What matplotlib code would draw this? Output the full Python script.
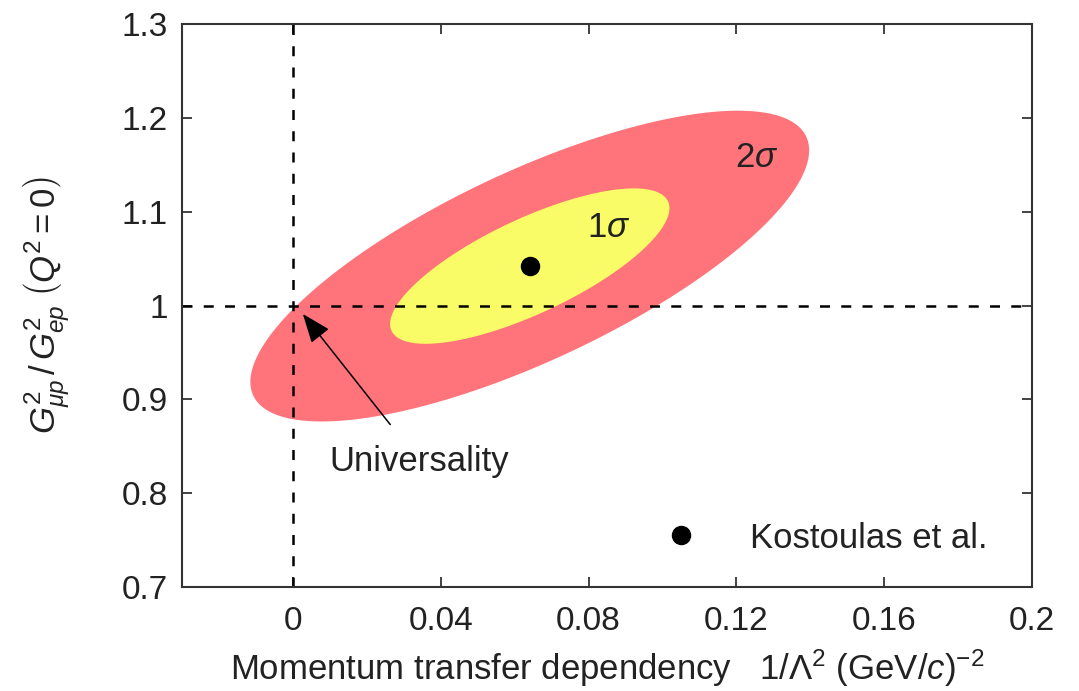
import numpy as np
import matplotlib
matplotlib.use("Agg")
import matplotlib.pyplot as plt

plt.rcParams['font.family'] = ['Liberation Sans', 'DejaVu Sans']
plt.rcParams['mathtext.fontset'] = 'custom'
plt.rcParams['mathtext.rm'] = 'Liberation Sans'
plt.rcParams['mathtext.it'] = 'Liberation Sans:italic'
plt.rcParams['mathtext.bf'] = 'Liberation Sans:bold'

# Data
center_x = 0.0641          # 1/Lambda^2 best fit
center_y = 1.042           # G^2_mup / G^2_ep best fit
sigma_x = 0.0378
sigma_y = 0.0828
rho = 0.745
contour_levels = [2, 1]
contour_labels = ['2$\\sigma$', '1$\\sigma$']
contour_colors = ['#FF737B', '#F9FC66']
label_pos_x = [0.1256, 0.0855]
label_pos_y = [1.158, 1.083]
legend_label = 'Kostoulas et al.'
xticks = [0, 0.04, 0.08, 0.12, 0.16, 0.2]
xtick_labels = ['0', '0.04', '0.08', '0.12', '0.16', '0.2']
yticks = [0.7, 0.8, 0.9, 1.0, 1.1, 1.2, 1.3]
ytick_labels = ['0.7', '0.8', '0.9', '1', '1.1', '1.2', '1.3']

FS = 25
TXT = '#222222'

fig = plt.figure(figsize=(10.79, 6.91), dpi=100)
ax = fig.add_axes([182/1079, 1-587/691, (1032-182)/1079, (587-24)/691])

t = np.linspace(0, 2*np.pi, 400)
for k, col in zip(contour_levels, contour_colors):
    ex = center_x + k*sigma_x*np.cos(t)
    ey = center_y + k*sigma_y*(rho*np.cos(t) + np.sqrt(1-rho**2)*np.sin(t))
    ax.fill(ex, ey, color=col, lw=0, zorder=1)

for lab, lx, ly in zip(contour_labels, label_pos_x, label_pos_y):
    ax.text(lx, ly, lab, fontsize=FS, ha='center', va='center', color=TXT, zorder=3)

ax.axvline(0, color='black', ls=(0, (4, 4.5)), lw=1.8, zorder=2)
ax.axhline(1, color='black', ls=(0, (4, 4.5)), lw=1.8, zorder=2)

ax.plot([center_x], [center_y], 'o', color='black', ms=13, zorder=4, label=legend_label)

ax.annotate('Universality', xy=(0.0027, 0.991), xytext=(0.0342, 0.834),
            fontsize=FS, ha='center', va='center', color=TXT,
            arrowprops=dict(arrowstyle='-|>,head_length=0.9,head_width=0.35', color='black',
                            lw=1.1, shrinkA=16, shrinkB=0, mutation_scale=20), zorder=5)

leg = ax.legend(loc='center left', bbox_to_anchor=(0.5666, 0.087), frameon=False,
                fontsize=FS, handlelength=1.0, handletextpad=1.49, borderpad=0,
                borderaxespad=0, labelcolor=TXT)

ax.set_xlim(-0.03, 0.2)
ax.set_ylim(0.7, 1.3)
ax.set_xticks(xticks)
ax.set_xticklabels(xtick_labels)
ax.set_yticks(yticks)
ax.set_yticklabels(ytick_labels)
ax.tick_params(direction='in', length=7, width=1.2, top=True, right=True,
               labelsize=24, colors=TXT, pad=10)
ax.tick_params(axis='x', pad=14)
for sp in ax.spines.values():
    sp.set_color('#333333')
    sp.set_linewidth(1.5)

ax.set_xlabel('Momentum transfer dependency   $1/\\Lambda^2$ (GeV$/c$)$^{-2}$',
              fontsize=FS, color=TXT, labelpad=7)
ax.set_ylabel('$G^2_{\\mu p}\\,/\\,G^2_{ep}\\;\\left(Q^2 = 0\\right)$', fontsize=FS, color=TXT, labelpad=36)

fig.savefig('out.png', dpi=100)
